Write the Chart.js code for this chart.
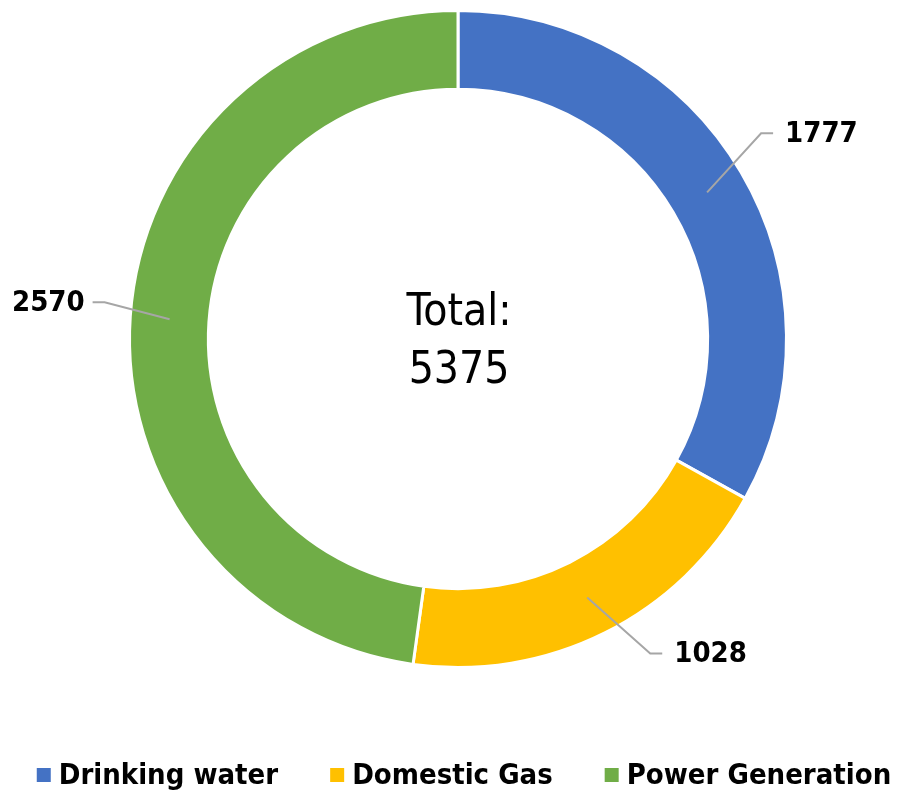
<!DOCTYPE html>
<html><head><meta charset="utf-8">
<script src="https://cdn.jsdelivr.net/npm/chart.js@4/dist/chart.umd.min.js"></script>
<style>html,body{margin:0;padding:0;background:#fff;}#wrap{width:897px;height:792px;position:relative;}</style>
</head><body><div id="wrap"><canvas id="c" width="897" height="792"></canvas></div>
<script>
const categories = ["Drinking water", "Domestic Gas", "Power Generation"];
const values = [1777, 1028, 2570];
const colors = ["#4472C4", "#FFC000", "#70AD47"];
const totalLabel = "Total:";

const FONT = "'DejaVu Sans Condensed', 'DejaVu Sans', sans-serif";
// elbow offsets for leader lines (from mid-ring point), per slice
const elbowOffsets = [[54, -59], [63, 56], [-65, -17]];

const labelsPlugin = {
  id: 'leaderLabels',
  afterDatasetsDraw(chart) {
    const ctx = chart.ctx;
    const meta = chart.getDatasetMeta(0);
    ctx.save();
    meta.data.forEach((arc, i) => {
      const p = arc.getProps(['x','y','startAngle','endAngle','innerRadius','outerRadius'], true);
      const mid = (p.startAngle + p.endAngle) / 2;
      const r = (p.innerRadius + p.outerRadius) / 2;
      const sx = p.x + Math.cos(mid) * r, sy = p.y + Math.sin(mid) * r;
      const ex = sx + elbowOffsets[i][0], ey = sy + elbowOffsets[i][1];
      const dir = elbowOffsets[i][0] >= 0 ? 1 : -1;
      const hx = ex + dir * 12;
      ctx.strokeStyle = '#A6A6A6';
      ctx.lineWidth = 2;
      ctx.beginPath();
      ctx.moveTo(sx, sy); ctx.lineTo(ex, ey); ctx.lineTo(hx, ey);
      ctx.stroke();
      ctx.fillStyle = '#000';
      ctx.font = "bold 29px " + FONT;
      ctx.textBaseline = 'middle';
      ctx.textAlign = dir > 0 ? 'left' : 'right';
      ctx.fillText(String(values[i]), hx + dir * (dir > 0 ? 12 : 8), ey + 1);
    });
    // center text
    const total = values.reduce((a, b) => a + b, 0);
    const cx = meta.data[0].x, cy = meta.data[0].y;
    ctx.font = "44px " + FONT;
    ctx.textAlign = 'center';
    ctx.textBaseline = 'alphabetic';
    ctx.fillText(totalLabel, cx + 1, cy - 14);
    ctx.fillText(String(total), cx + 1, cy + 44);
    // legend
    ctx.font = "bold 29px " + FONT;
    const box = 14, gapBox = 8, gapItem = 52;
    const widths = categories.map(c => ctx.measureText(c).width);
    const totalW = widths.reduce((a, w) => a + box + gapBox + w, 0) + gapItem * (categories.length - 1);
    let x = 464 - totalW / 2;
    const ly = 775;
    ctx.textAlign = 'left';
    ctx.textBaseline = 'middle';
    categories.forEach((c, i) => {
      ctx.fillStyle = colors[i];
      ctx.fillRect(x, ly - box / 2, box, box);
      ctx.fillStyle = '#000';
      ctx.fillText(c, x + box + gapBox, ly + 1);
      x += box + gapBox + widths[i] + gapItem;
    });
    ctx.restore();
  }
};

new Chart(document.getElementById('c'), {
  type: 'doughnut',
  data: {
    labels: categories,
    datasets: [{
      data: values,
      backgroundColor: colors,
      borderColor: '#ffffff',
      borderWidth: 3,
      hoverOffset: 0
    }]
  },
  options: {
    responsive: false,
    animation: false,
    cutout: '76%',
    layout: { padding: { top: 9, bottom: 123, left: 128, right: 109 } },
    plugins: { legend: { display: false }, tooltip: { enabled: false } }
  },
  plugins: [labelsPlugin]
});
</script>
</body></html>
